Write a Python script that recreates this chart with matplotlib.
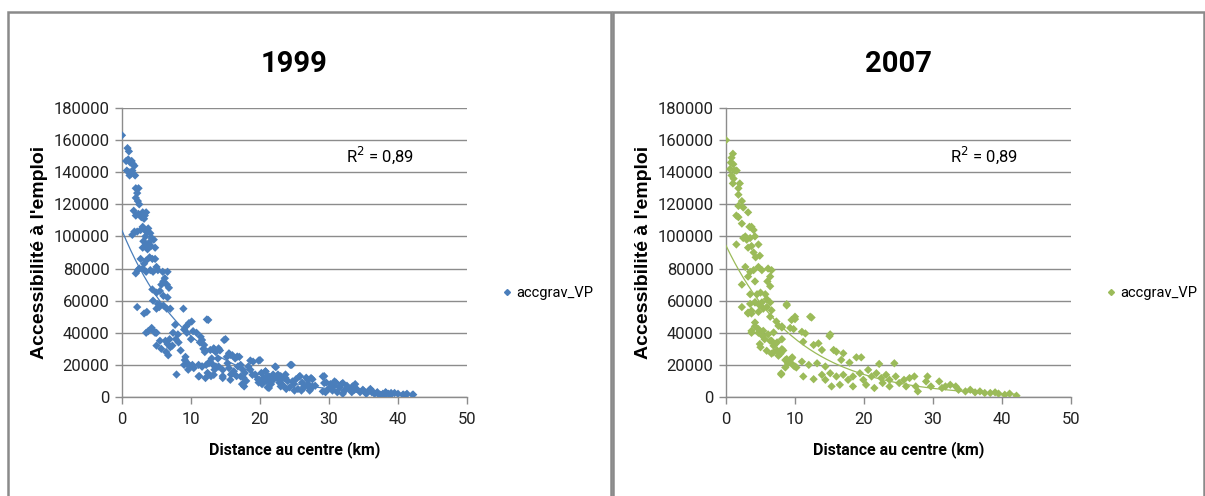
import numpy as np
import matplotlib
matplotlib.use("Agg")
import matplotlib.pyplot as plt
from matplotlib.lines import Line2D
from matplotlib.patches import Rectangle

x_1999 = [0.0, 0.8, 1.0, 0.6, 0.9, 1.2, 1.4, 0.7, 1.0, 1.1, 1.3, 1.6, 1.8, 1.9, 1.5,
          2.0, 2.2, 2.0, 2.3, 2.5, 2.4, 1.7, 2.0, 2.4, 2.8, 3.0, 3.3, 3.5, 3.2,
          1.5, 1.8, 2.2, 2.7, 3.0, 3.3, 3.6, 3.8, 4.1, 3.4, 3.1, 3.5, 3.9, 4.3, 4.6, 3.0, 3.7, 4.2, 4.8,
          2.7, 3.2, 3.5, 4.0, 4.4, 4.8, 3.0, 3.5, 4.1, 4.5, 5.0, 5.2, 2.3, 2.0, 2.5,
          5.9, 6.6, 6.2, 5.7, 6.0, 6.5, 6.8, 4.4, 5.0, 5.5, 6.0, 6.6, 4.5, 5.2, 6.0, 6.5, 7.0, 5.0, 5.4,
          2.2, 3.2, 3.6, 3.8, 4.3, 4.6, 5.0, 4.8, 3.5, 5.0, 5.5, 5.7, 6.3, 6.6, 6.9, 6.4, 6.7, 7.0,
          7.4, 7.7, 8.1, 7.3, 7.8, 8.2, 8.5, 7.9, 8.9,
          9.0, 9.3, 9.7, 10.1, 9.4, 10.3, 10.0, 9.1, 9.5, 9.8, 10.2, 9.2, 9.6, 10.4, 9.0,
          10.8, 11.3, 11.8, 12.5, 12.0,
          11.2, 11.6, 12.2, 12.7, 13.0, 13.3, 13.6, 13.9, 14.2, 12.4, 12.9, 13.4, 14.6, 15.0, 15.2,
          15.5, 15.8, 16.2, 16.6, 16.0, 16.4, 17.0, 17.2, 17.5, 17.8, 18.0, 17.4, 18.3, 18.6, 19.0,
          19.3, 19.7, 20.0, 16.8, 14.0, 13.2, 15.3, 17.6,
          20.2, 20.5, 20.8, 21.0, 21.3, 21.6, 21.9, 22.2, 22.5, 22.8, 23.1, 23.4, 23.7, 24.0, 24.3,
          24.6, 24.9, 25.2, 25.5, 25.8, 26.1, 26.4, 26.7, 27.0, 27.3, 27.6, 28.0, 20.3, 21.1, 22.0,
          23.0, 23.8, 25.0, 26.0, 27.2, 19.8, 20.9, 22.6,
          29.3, 29.6, 29.9, 30.2, 30.5, 30.8, 31.2, 31.5, 31.8, 32.2, 32.6, 33.0, 33.3, 33.6, 34.0,
          34.5, 35.0, 35.4, 35.8, 36.2, 36.6, 37.0, 37.4, 37.8, 38.2, 38.6, 39.0, 39.5, 40.0, 40.8,
          41.3, 42.2, 29.5, 31.0, 32.0, 33.8, 36.0, 38.0,
          12.3, 11.4, 11.6, 11.9, 12.8, 13.3, 14.0, 14.8, 15.5, 15.7, 16.7, 18.6, 19.8, 22.3, 24.4,
          11.1, 11.6, 12.6, 13.6, 14.6, 11.1, 12.1, 13.3, 14.6, 15.7, 16.0, 17.2, 17.7, 18.9, 19.9,
          20.8, 21.3, 21.3, 22.8, 23.0, 23.7, 24.7, 25.7, 26.4, 26.9, 27.4, 27.6, 29.1, 29.3, 29.1,
          30.3, 30.8, 32.0, 32.4, 33.4, 33.7, 34.9, 35.4, 36.3, 37.0, 37.5, 38.3, 39.0, 40.7, 41.2, 42.1]
y_1999 = [163, 155, 153, 147, 148, 146, 147, 141, 140, 138, 139, 145, 144, 138, 141,
          130, 127, 124, 122, 120, 130, 116, 113, 114, 112, 115, 113, 115, 111,
          101, 103, 103, 104, 106, 104, 103, 105, 102, 100, 97, 95, 96, 99, 98, 93, 92, 94, 93,
          86, 83, 85, 87, 86, 86, 80, 78, 79, 78, 81, 79, 79, 77, 80,
          78, 78, 74, 70, 72, 70, 68, 67, 65, 66, 63, 62, 60, 58, 57, 55, 55, 55, 56,
          56, 52, 53, 41, 43, 41, 40, 40, 40, 32, 35, 30, 35, 33, 36, 28, 26, 31,
          40, 45, 39, 32, 36, 34, 29, 14, 55,
          42, 44, 46, 47, 40, 41, 36, 23, 21, 19, 20, 25, 17, 18, 20,
          40, 34, 30, 48, 28,
          13, 19, 20, 22, 24, 30, 28, 24, 29, 15, 13, 17, 13, 36, 25,
          18, 14, 16, 13, 26, 24, 25, 20, 17, 15, 10, 8, 19, 17, 22,
          14, 11, 23, 19, 19, 20, 21, 12,
          15, 12, 16, 13, 10, 8, 14, 19, 12, 9, 11, 7, 14, 10, 6,
          20, 8, 11, 5, 13, 9, 6, 12, 8, 5, 11, 7, 8, 6, 11,
          13, 5, 4, 4, 4, 9, 10, 14,
          13, 9, 5, 8, 4, 7, 3, 6, 8, 4, 7, 5, 3, 6, 5,
          3, 4, 2, 4, 3, 2, 3, 1, 2, 3, 2, 1.5, 2.5, 2, 1.5,
          2, 1.5, 3, 9, 2, 8, 5, 1,
          48.3, 37.5, 35.5, 32.4, 29.3, 30.3, 30.3, 35.5, 27.2, 26.2, 25.2, 22.7, 22.7, 18.6, 20.0,
          20.0, 19.0, 21.0, 19.0, 16.9, 12.8, 11.8, 13.8, 11.8, 10.7, 14.8, 12.8, 6.6, 13.8, 10.7,
          15.9, 12.8, 5.6, 10.7, 6.6, 11.8, 9.7, 12.8, 6.6, 10.7, 11.8, 6.6, 12.8, 8.7, 3.5,
          6.6, 9.7, 8.7, 4.5, 6.6, 4.5, 4.5, 2.5, 3.5, 2.5, 1.4, 2.5, 2.5, 1.4, 1.4, 1.4]

x_2007 = [0.0, 1.0, 0.8, 0.7, 1.06, 0.6, 1.3, 0.8, 1.1, 1.55, 1.0, 2.0, 1.8, 1.8, 2.3, 1.8, 2.5,
          1.5, 1.8, 3.2, 2.3, 3.4, 3.7, 4.0, 2.8, 2.5, 3.0, 3.5, 4.2, 1.5, 3.2, 3.7, 4.7, 4.0, 4.3,
          4.9, 2.8, 3.5, 4.0, 3.2, 4.7, 5.2, 6.1, 6.6, 6.4, 6.0, 6.4, 4.2, 2.3, 3.5, 4.5, 5.0, 5.7,
          5.9, 2.3, 3.5, 4.2, 4.9, 5.4, 5.9, 6.6, 3.2, 3.7, 4.7, 6.4, 7.3, 8.8, 9.5, 10.0, 8.1, 9.3,
          4.2, 3.7, 4.7, 5.3, 5.0, 6.6, 7.1, 7.4, 7.9, 8.3, 6.6, 8.6, 9.0, 9.5, 10.0, 8.0, 12.2, 15.1,
          3.2, 3.7, 4.2, 5.2, 6.4, 8.8, 4.2, 3.7, 4.7, 5.4, 6.1, 6.9, 7.6, 8.1, 10.0, 9.8,
          4.9, 5.6, 6.4, 6.9, 7.4, 8.1, 5.9, 6.9, 7.6, 8.1, 8.8, 9.3, 9.8, 10.2, 8.0, 8.6, 9.6,
          12.4, 11.5, 11.0, 11.2, 12.7, 13.4, 13.9, 15.0, 15.6, 16.0, 17.0, 16.7, 18.9, 19.6, 17.9,
          22.2, 24.4, 11.0, 12.0, 13.2, 14.4, 11.2, 12.7, 13.9, 15.1, 16.0, 17.0, 17.7, 18.4, 19.4,
          19.9, 20.6, 21.1, 21.8, 22.5, 23.2, 23.7, 21.5, 22.7, 24.6, 25.1, 25.8, 26.6, 27.3, 26.1,
          27.5, 27.8, 29.0, 29.2, 29.7, 30.9, 31.3, 31.8, 32.5, 33.3, 33.7, 34.7, 35.4, 36.1, 36.8,
          37.5, 38.3, 39.0, 39.5, 40.4, 41.1, 42.1, 23.7, 20.3, 18.4, 16.5, 14.4, 15.3]
y_2007 = [160, 151.5, 149, 146, 145, 142, 141, 138, 136, 141, 133, 133, 130, 126, 122, 119, 118,
          113, 112, 115, 108, 106, 106, 104, 100, 99, 98, 99, 100, 95, 93, 94, 95, 90, 87,
          88, 81, 78, 79, 75, 81, 79, 80, 79, 75, 72, 69, 72, 70, 64, 64, 65, 64,
          61, 56, 58, 59, 57, 55, 56, 54, 52, 52, 53, 50, 47, 57, 48, 50, 44, 43,
          44, 40, 40, 38, 31, 35, 33, 29, 27, 29, 27, 23, 21, 24, 19, 14, 50, 39,
          52.6, 53.7, 58.9, 58.9, 58.9, 57.8, 46.4, 41.2, 42.3, 41.2, 39.0, 40.2, 44.3, 43.3, 48.5, 42.3,
          33.0, 36.0, 35.0, 31.9, 34.0, 36.0, 28.8, 27.8, 25.7, 29.8, 23.6, 21.6, 19.5, 18.4, 14.7, 18.4, 24.7,
          49.5, 39.6, 40.6, 34.4, 32.4, 33.4, 29.3, 37.9, 29.3, 28.2, 27.2, 23.1, 24.7, 24.7, 21.4,
          20.6, 21.0, 22.0, 20.0, 21.0, 19.0, 12.8, 11.1, 13.8, 14.8, 12.8, 13.8, 10.7, 12.8, 14.8,
          10.7, 16.9, 12.8, 14.8, 11.8, 13.8, 10.7, 5.6, 8.7, 12.8, 8.7, 10.7, 11.8, 12.8, 6.6,
          6.6, 3.5, 9.7, 12.8, 6.6, 9.7, 5.6, 6.6, 7.6, 6.6, 4.5, 3.5, 4.5, 2.9, 3.5,
          2.5, 2.5, 2.9, 2.1, 1.4, 2.1, 0.8, 6.6, 7.6, 6.6, 7.6, 10.7, 6.6]

titles = ["1999", "2007"]
series_label = "accgrav_VP"
r2_text = "R$^2$ = 0,89"
colors = ["#4a7ebb", "#9bbb59"]
# ==================================================================

plt.rcParams["font.family"] = ["Roboto", "DejaVu Sans"]

fig = plt.figure(figsize=(12.05, 4.96), dpi=100)
W, H = 1205, 496

# cadres gris des deux graphiques
for x0, x1 in [(8, 611), (613, 1204)]:
    fig.patches.append(Rectangle((x0 / W, -0.1), (x1 - x0) / W, (H - 12) / H + 0.1,
                                 transform=fig.transFigure, fill=False,
                                 edgecolor="#8a8a8a", linewidth=1.8))

panels = [(x_1999, y_1999, 122), (x_2007, y_2007, 726)]
for i, (xs, ys, left_px) in enumerate(panels):
    xs = np.array(xs, dtype=float)
    ys = np.array(ys, dtype=float) * 1000
    ax = fig.add_axes([left_px / W, (H - 397) / H, 345 / W, 289 / H])
    ax.scatter(xs, ys, marker="D", s=18, color=colors[i], edgecolors="none", zorder=3)

    # courbe de tendance exponentielle (ajustement comme Excel)
    b, a = np.polyfit(xs, np.log(ys), 1)
    xt = np.linspace(0, xs.max(), 200)
    ax.plot(xt, np.exp(a) * np.exp(b * xt), color=colors[i], linewidth=0.9, zorder=4)

    ax.set_xlim(0, 50)
    ax.set_ylim(0, 180000)
    ax.set_xticks(range(0, 51, 10))
    ax.set_yticks(range(0, 180001, 20000))
    ax.yaxis.grid(True, color="#8c8c8c", linewidth=1.0)
    ax.set_axisbelow(True)
    for s in ["top", "right"]:
        ax.spines[s].set_visible(False)
    for s in ["left", "bottom"]:
        ax.spines[s].set_color("#8c8c8c")
        ax.spines[s].set_linewidth(1.0)
    ax.tick_params(axis="both", color="#8c8c8c", length=5, width=1, labelsize=12,
                   labelcolor="#222222", pad=4)
    ax.tick_params(axis="x", pad=6)

    ax.set_title(titles[i], fontsize=21, fontweight="bold", pad=26)
    ax.set_xlabel("Distance au centre (km)", fontsize=11.5, fontweight="bold", labelpad=10)
    ax.set_ylabel("Accessibilité à l'emploi", fontsize=14, fontweight="bold",
                  family=["Liberation Sans", "DejaVu Sans"], labelpad=4)
    ax.text(32.5, 150500, r2_text, fontsize=12, va="center", ha="left")

    handle = Line2D([], [], marker="D", markersize=3, linestyle="none", color=colors[i])
    ax.legend([handle], [series_label], loc="center left", bbox_to_anchor=(1.1, 0.36),
              frameon=False, fontsize=10.5, handletextpad=0.2, handlelength=0.8,
              borderpad=0, borderaxespad=0)

fig.savefig("out.png", dpi=100)
